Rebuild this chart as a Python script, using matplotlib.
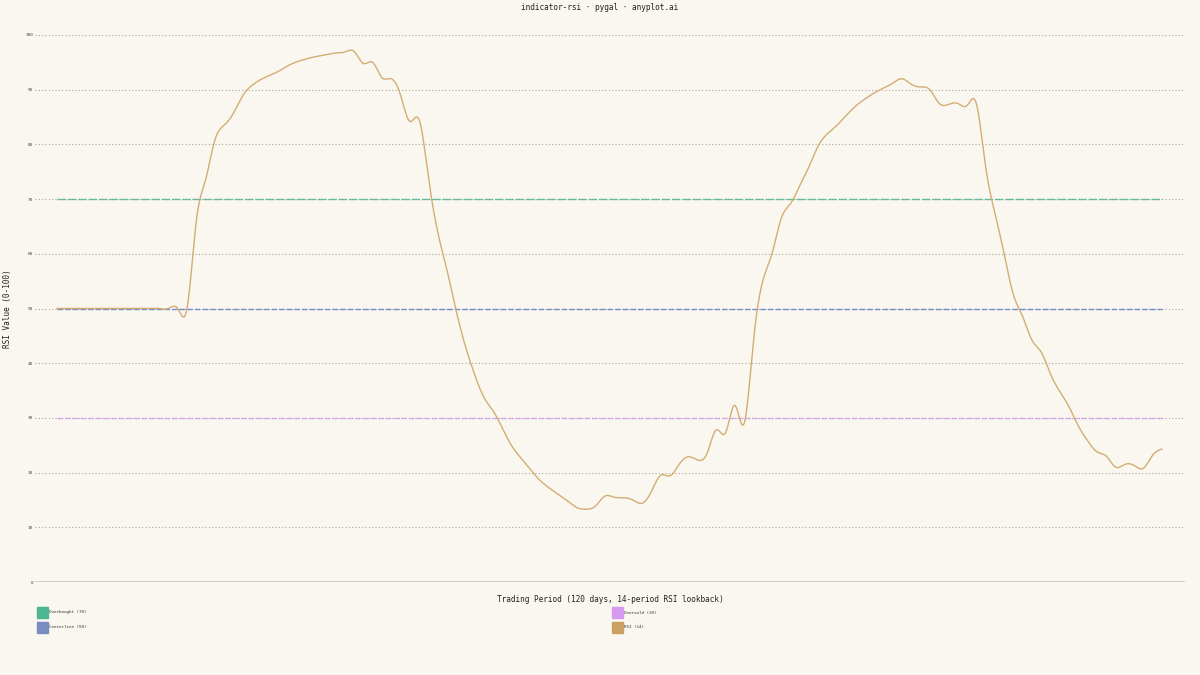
import numpy as np
import matplotlib
matplotlib.use("Agg")
import matplotlib.pyplot as plt
from matplotlib.patches import Rectangle

# ---------------------------------------------------------------- data
rsi = [50, 50, 50, 50, 50, 50, 50, 50, 50, 50,
       50, 50, 50, 50, 50, 66, 73.5, 80.8, 83.5, 85.7,
       88.9, 90.8, 91.9, 92.7, 93.5, 94.5, 95.2, 95.7, 96.1, 96.4,
       96.7, 96.9, 97.0, 94.8, 95.0, 92.2, 92.0, 89.0, 84.2, 84.5,
       74.0, 64.0, 57.0, 49.5, 43.0, 37.8, 33.7, 31.2, 28.0, 24.8,
       22.6, 20.5, 18.6, 17.2, 16.0, 14.8, 13.6, 13.3, 13.9, 15.7,
       15.5, 15.4, 15.0, 14.4, 16.5, 19.5, 19.4, 21.5, 22.9, 22.3,
       23.5, 27.8, 27.3, 32.3, 29.0, 44.0, 55.0, 60.0, 66.5, 69.2,
       72.5, 76.0, 79.8, 82.0, 83.5, 85.3, 87.0, 88.3, 89.4, 90.3,
       91.2, 92.0, 91.0, 90.5, 90.0, 87.5, 87.3, 87.5, 87.1, 87.5,
       76.0, 67.5, 60.0, 52.5, 48.5, 44.2, 42.0, 38.0, 34.8, 32.0,
       28.5, 25.8, 23.8, 23.0, 21.0, 21.5, 21.3, 20.8, 23.2, 24.3]
days = np.arange(len(rsi))

overbought = 70
centerline = 50
oversold = 30

legend_labels = ["Overbought (70)", "Oversold (30)", "Centerline (50)", "RSI (14)"]
legend_colors = ["#45b48f", "#d595f2", "#7289bf", "#c99d5f"]

title = "indicator-rsi \u00b7 pygal \u00b7 anyplot.ai"
xlabel = "Trading Period (120 days, 14-period RSI lookback)"
ylabel = "RSI Value (0-100)"
yticks = np.arange(0, 101, 10)

bg = "#faf7f0"
mono = "DejaVu Sans Mono"


# natural cubic spline for smooth drawing (like pygal interpolate='cubic')
def natural_spline(x, y, num=2000):
    x = np.asarray(x, float)
    y = np.asarray(y, float)
    n = len(x)
    h = np.diff(x)
    A = np.zeros((n, n))
    b = np.zeros(n)
    A[0, 0] = A[-1, -1] = 1
    for i in range(1, n - 1):
        A[i, i - 1] = h[i - 1]
        A[i, i] = 2 * (h[i - 1] + h[i])
        A[i, i + 1] = h[i]
        b[i] = 6 * ((y[i + 1] - y[i]) / h[i] - (y[i] - y[i - 1]) / h[i - 1])
    M = np.linalg.solve(A, b)
    xs = np.linspace(x[0], x[-1], num)
    k = np.clip(np.searchsorted(x, xs) - 1, 0, n - 2)
    t0 = x[k + 1] - xs
    t1 = xs - x[k]
    hk = h[k]
    ys = (M[k] * t0 ** 3 + M[k + 1] * t1 ** 3) / (6 * hk) \
        + (y[k] / hk - M[k] * hk / 6) * t0 + (y[k + 1] / hk - M[k + 1] * hk / 6) * t1
    return xs, ys


# ---------------------------------------------------------------- figure
fig = plt.figure(figsize=(12, 6.75), dpi=100, facecolor=bg)
ax = fig.add_axes([35 / 1200, 1 - 582 / 675, 1150 / 1200, 547 / 675])
ax.set_facecolor(bg)

ax.set_ylim(0, 100)
ax.set_xlim(-22 / 9.286, days[-1] + 23 / 9.286)

# grid
for v in yticks[1:]:
    ax.axhline(v, color="#aaa59c", lw=0.8, ls=(0, (1, 2)), zorder=1)
ax.axhline(0, color="#cfcbc3", lw=2.0, zorder=1)

# reference lines
ax.plot(days, [overbought] * len(days), color=legend_colors[0], lw=1.0,
        ls=(0, (6, 1.5)), alpha=0.8, zorder=2)
ax.plot(days, [centerline] * len(days), color="#6585c8", lw=1.0,
        ls=(0, (4, 1.5)), alpha=0.9, zorder=2)
ax.plot(days, [oversold] * len(days), color=legend_colors[1], lw=1.0,
        ls=(0, (4, 1.5)), alpha=0.75, zorder=2)

# RSI line
xs, ys = natural_spline(days, rsi)
ax.plot(xs, ys, color="#d2a96c", lw=1.0, alpha=0.95, zorder=3)

# axes styling
for s in ax.spines.values():
    s.set_visible(False)
ax.set_xticks([])
ax.set_yticks(yticks)
ax.set_yticklabels([str(v) for v in yticks], fontsize=3.2, family=mono, color="#444444")
ax.tick_params(axis="y", length=0, pad=1.5)

fig.text(0.5, 1 - 7 / 675, title, ha="center", va="center", fontsize=5.6,
         family=mono, color="#222222")
fig.text(610 / 1200, 1 - 600 / 675, xlabel, ha="center", va="center", fontsize=5.6,
         family=mono, color="#222222")
fig.text(8 / 1200, 1 - 309 / 675, ylabel, ha="center", va="center", fontsize=5.6,
         family=mono, color="#222222", rotation=90)

# legend (2 columns)
pos = [(37, 607), (612, 607), (37, 622), (612, 622)]
for (px, py), lab, col in zip(pos, legend_labels, legend_colors):
    fig.patches.append(Rectangle((px / 1200, 1 - (py + 11) / 675), 11 / 1200, 11 / 675,
                                 transform=fig.transFigure, facecolor=col,
                                 edgecolor=col, alpha=0.95))
    fig.text((px + 12) / 1200, 1 - (py + 5.5) / 675, lab, ha="left", va="center",
             fontsize=3.1, family=mono, color="#333333")

fig.savefig("out.png", dpi=100, facecolor=bg)
